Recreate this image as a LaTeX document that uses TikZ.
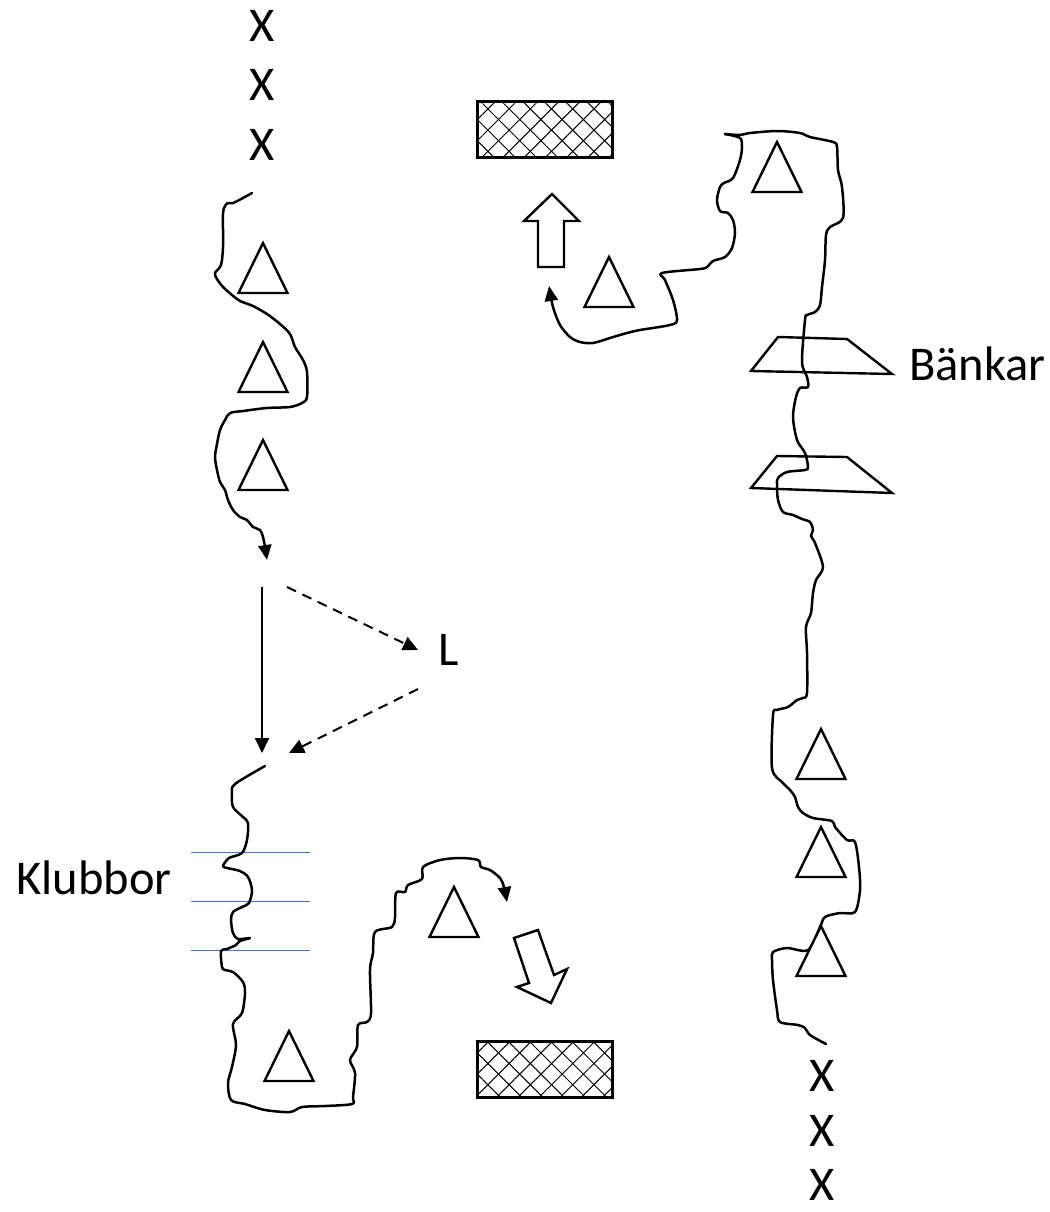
\documentclass[tikz,border=0pt]{standalone}
\usepackage{fontspec}
\setmainfont{Carlito}
\usetikzlibrary{arrows.meta,patterns.meta}
\definecolor{clubblue}{HTML}{4472C4}
\tikzset{
  wiggle/.style={line width=2.5pt, line cap=round, line join=round},
  tip/.style={-{Triangle[length=15pt,width=13pt]}},
  outlined/.style={draw, line width=2.4pt, fill=white, line join=miter},
  lbl/.style={font=\fontsize{48.5}{56}\selectfont, inner sep=0pt},
  goalbox/.style={line width=3pt,
    pattern={Lines[angle=45,distance=15pt,line width=1pt]},
    postaction={pattern={Lines[angle=-45,distance=15pt,line width=1pt]}},
    postaction={draw, line width=3pt}},
  bench/.style={draw, line width=2.4pt, line join=miter},
  pics/cone/.style={code={\draw[outlined] (-24.5,0) -- (0,-50) -- (24.5,0) -- cycle;}}
}
\begin{document}
\begin{tikzpicture}[x=1pt,y=-1pt]
\useasboundingbox (0,0) rectangle (1049,1212);

% queue labels
\foreach \yy [count=\i] in {42,101,160}
  \node[lbl, anchor=base] (xa\i) at (262,\yy) {X};
\foreach \yy [count=\i] in {1091,1146,1200}
  \node[lbl, anchor=base] (xb\i) at (822,\yy) {X};

% goals
\path[goalbox] (477,102) rectangle (612,157);
\path[goalbox] (477,1041) rectangle (612,1097);

% benches
\draw[bench] (778,337) -- (847,339) -- (892,374) -- (751,371) -- cycle;
\draw[bench] (777,456) -- (847,457) -- (892,493) -- (751,488) -- cycle;
\node[lbl, anchor=base west] (benk) at (909,380) {Bänkar};

% club lines
\foreach \yy in {852.5,901,950.5}
  \draw[clubblue, line width=1pt] (191,\yy) -- (310,\yy);
\node[lbl, anchor=base east] (klub) at (172,894) {Klubbor};

% left track, top part
\draw[wiggle, tip] plot[smooth, tension=0.5] coordinates {
  (252,193) (243,198) (233,203) (228,203) (225,206) (223,214) (223,247)
  (221,265) (215,273) (217,279) (223,287) (232,295) (240,301) (253,306)
  (267,314) (280,324) (290,334) (295,347) (303,360) (307,372) (307,397)
  (302,403) (290,407) (267,408) (243,411) (230,413) (225,420) (220,430)
  (217,444) (215,457) (217,470) (220,482) (225,490) (228,500) (233,510)
  (240,517) (247,520) (253,527) (260,530) (263,537) (265,547) (267,560)};

% left track, lower loop
\draw[wiggle, tip] plot[smooth, tension=0.5] coordinates {
  (265,766) (235,784) (232,793) (233,807) (243,817) (248,823) (247,840)
  (242,853) (229,858) (223,866) (227,868) (240,871) (248,877) (252,890)
  (249,903) (242,907) (233,912) (231,920) (233,933) (238,939) (250,938)
  (240,941) (236,945) (227,949) (221,951) (222,967) (225,970) (233,972)
  (243,982) (245,993) (242,1013) (233,1024) (236,1045) (232,1067)
  (228,1083) (231,1100) (245,1104) (265,1110) (290,1112) (302,1107)
  (325,1106) (352,1104) (353,1097) (355,1073) (350,1060) (357,1047)
  (358,1025) (367,1022) (371,1013) (370,970) (373,953) (375,932) (392,927)
  (395,917) (396,893) (405,892) (408,885) (422,879) (423,867) (440,860)
  (460,858) (478,860) (481,867) (490,870) (500,878) (504,887) (507,902)};

% right track, from the bottom up to the top corner
\draw[wiggle] plot[smooth, tension=0.5] coordinates {
  (826,1044) (810,1035) (805,1028) (798,1025) (780,1022) (777,1010)
  (773,980) (772,960) (773,952) (787,948) (808,950) (820,927) (825,917)
  (840,913) (855,912) (860,890) (859,867) (855,842) (847,840) (835,827)
  (832,821) (813,818) (803,813) (798,807) (795,797) (790,790) (782,782)
  (772,768) (773,715) (777,710) (788,707) (797,700) (803,698) (807,693)
  (807,653) (806,627) (811,613) (813,593) (816,580) (823,567) (815,543)
  (811,536) (813,530) (810,522) (802,519) (793,515) (783,512) (778,500)
  (777,485) (778,478) (787,472) (805,470) (808,467) (805,453) (797,440)
  (793,417) (796,397) (800,388) (808,387) (807,377) (802,362) (805,320)
  (807,315) (815,312) (820,305) (822,287) (825,260) (826,235) (830,227)
  (843,218) (842,187) (838,170) (837,147) (833,142) (810,137) (800,133)
  (777,131) (750,133) (740,135) (725,134)};

% right track, from the top corner to the goal
\draw[wiggle, tip] plot[smooth, tension=0.5] coordinates {
  (725,134) (740,138) (742,147) (740,160) (733,178) (724,183) (720,187)
  (717,200) (720,211) (728,213) (733,220) (735,233) (732,248) (725,257)
  (713,261) (707,267) (700,269) (662,273) (665,280) (673,300) (677,320)
  (670,325) (640,330) (627,333) (610,338) (593,343) (580,342) (570,337)
  (560,325) (553,307) (549,286)};

% cones
\foreach \cx/\cy in {263/293, 263/392, 263/490, 609/307, 777/192,
                     289/1081, 454/937, 821/779, 821/877, 821/976}
  \pic at (\cx,\cy) {cone};

% block arrows
\draw[outlined] (538,267) -- (538,221) -- (524,221) -- (552,194)
  -- (579,221) -- (564,221) -- (564,267) -- cycle;
\draw[outlined] (514,938) -- (538,930) -- (554,975) -- (567,969)
  -- (551,1003) -- (517,987) -- (529,983) -- cycle;

% pass to L and back
\coordinate (vtop) at (262,587);
\coordinate (vbot) at (262,753);
\coordinate (d1s) at (287,587);
\coordinate (d1e) at (418,650);
\coordinate (d2s) at (418,689);
\coordinate (d2e) at (289,753);
\node[lbl, anchor=base] (ell) at (449,665) {L};
\draw[line width=2pt, -{Triangle[length=15pt,width=14pt]}] (vtop) -- (vbot);
\draw[line width=2pt, dash pattern=on 10pt off 7pt,
      -{Triangle[length=15pt,width=14pt]}] (d1s) -- (d1e);
\draw[line width=2pt, dash pattern=on 10pt off 7pt,
      -{Triangle[length=15pt,width=14pt]}] (d2s) -- (d2e);
\end{tikzpicture}
\end{document}
